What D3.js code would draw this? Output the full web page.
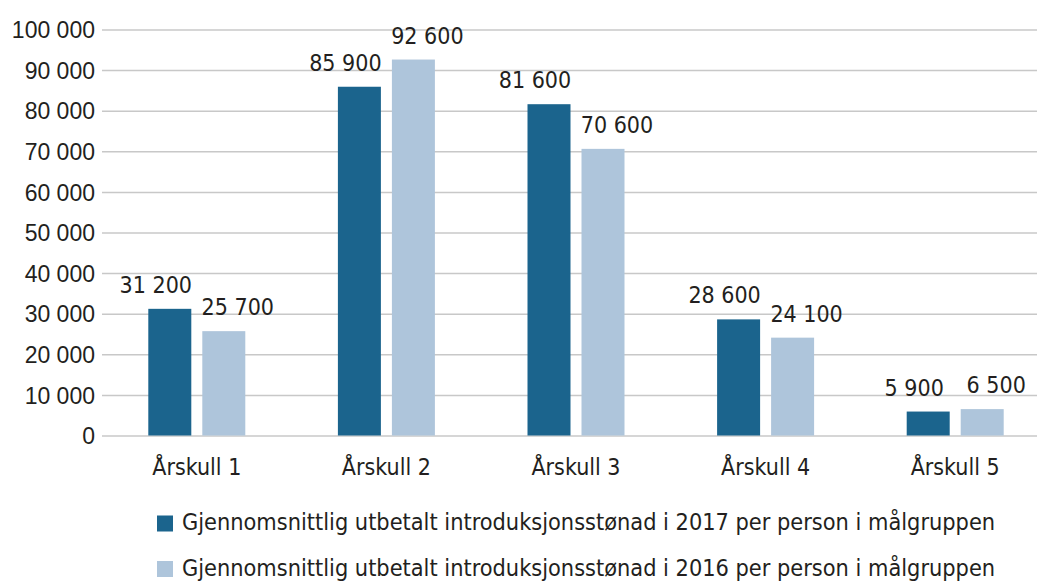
<!DOCTYPE html>
<html>
<head>
<meta charset="utf-8">
<script src="https://cdn.jsdelivr.net/npm/d3@7"></script>
<style>
  html, body { margin: 0; padding: 0; background: #fff; }
  svg { display: block; font-family: "DejaVu Sans Condensed", "DejaVu Sans", Verdana, sans-serif; font-stretch: condensed; }
</style>
</head>
<body>
<div id="chart"></div>
<script>
// Chart data
var categories = ['Årskull 1', 'Årskull 2', 'Årskull 3', 'Årskull 4', 'Årskull 5'];
var values2017 = [31200, 85900, 81600, 28600, 5900];
var values2016 = [25700, 92600, 70600, 24100, 6500];
var seriesNames = [
  'Gjennomsnittlig utbetalt introduksjonsstønad i 2017 per person i målgruppen',
  'Gjennomsnittlig utbetalt introduksjonsstønad i 2016 per person i målgruppen'
];
var yTicks = [0, 10000, 20000, 30000, 40000, 50000, 60000, 70000, 80000, 90000, 100000];

var config = {
  width:      1037,
  height:     581,
  plotLeft:   102,
  plotRight:  1050,  // plot runs past the window edge, like the original
  plotTop:    29.5,
  plotBottom: 435.5,
  barWidth:   43,
  barGap:     11,
  labelShift: [-14, 14], // value labels spread outwards from the bar pair
  labelLift:  16,
  fontSize:   23,
  legendSize: 23.3,
  textColor:  '#231f20',
  gridColor:  '#c8c8c8',
  colors:     ['#1b648d', '#aec5db']
};

var series = [values2017, values2016];
var fmt = function(v) { return d3.format(',')(v).replace(/,/g, ' '); };

var svg = d3.select('#chart').append('svg')
  .attr('width', config.width)
  .attr('height', config.height);

var x = d3.scaleBand()
  .domain(categories)
  .range([config.plotLeft, config.plotRight]);

var y = d3.scaleLinear()
  .domain([0, 100000])
  .range([config.plotBottom, config.plotTop]);

// Gridlines and y tick labels
var yAxis = d3.axisLeft(y)
  .tickValues(yTicks)
  .tickSize(-(config.plotRight - config.plotLeft))
  .tickPadding(7)
  .tickFormat(fmt);

var gy = svg.append('g')
  .attr('transform', 'translate(' + config.plotLeft + ',0)')
  .call(yAxis);
gy.select('.domain').remove();
gy.selectAll('.tick line')
  .attr('stroke', config.gridColor)
  .attr('stroke-width', 1.5);
gy.selectAll('.tick text')
  .attr('fill', config.textColor)
  .attr('dy', '0.36em')
  .style('font-size', config.fontSize + 'px')
  .style('font-family', 'inherit');

// Bars
var offsets = [-(config.barGap / 2 + config.barWidth), config.barGap / 2];

series.forEach(function(vals, s) {
  var rows = categories.map(function(c, i) { return { cat: c, v: vals[i] }; });

  svg.append('g').selectAll('rect').data(rows).enter().append('rect')
    .attr('x', function(d) { return x(d.cat) + x.bandwidth() / 2 + offsets[s]; })
    .attr('y', function(d) { return y(d.v); })
    .attr('width', config.barWidth)
    .attr('height', function(d) { return y(0) - y(d.v); })
    .attr('fill', config.colors[s]);

  svg.append('g').selectAll('text').data(rows).enter().append('text')
    .attr('x', function(d) {
      return x(d.cat) + x.bandwidth() / 2 + offsets[s] + config.barWidth / 2 + config.labelShift[s];
    })
    .attr('y', function(d) { return y(d.v) - config.labelLift; })
    .attr('text-anchor', 'middle')
    .attr('fill', config.textColor)
    .style('font-size', config.fontSize + 'px')
    .text(function(d) { return fmt(d.v); });
});

// Category labels
svg.append('g').selectAll('text').data(categories).enter().append('text')
  .attr('x', function(d) { return x(d) + x.bandwidth() / 2; })
  .attr('y', 475)
  .attr('text-anchor', 'middle')
  .attr('fill', config.textColor)
  .style('font-size', config.fontSize + 'px')
  .text(function(d) { return d; });

// Legend
var legend = svg.append('g').selectAll('g').data(seriesNames).enter().append('g')
  .attr('transform', function(d, i) { return 'translate(157,' + (515.5 + i * 45.5) + ')'; });

legend.append('rect')
  .attr('width', 16)
  .attr('height', 16)
  .attr('fill', function(d, i) { return config.colors[i]; });

legend.append('text')
  .attr('x', 25)
  .attr('y', 14.5)
  .attr('fill', config.textColor)
  .style('font-size', config.legendSize + 'px')
  .text(function(d) { return d; });
</script>
</body>
</html>
